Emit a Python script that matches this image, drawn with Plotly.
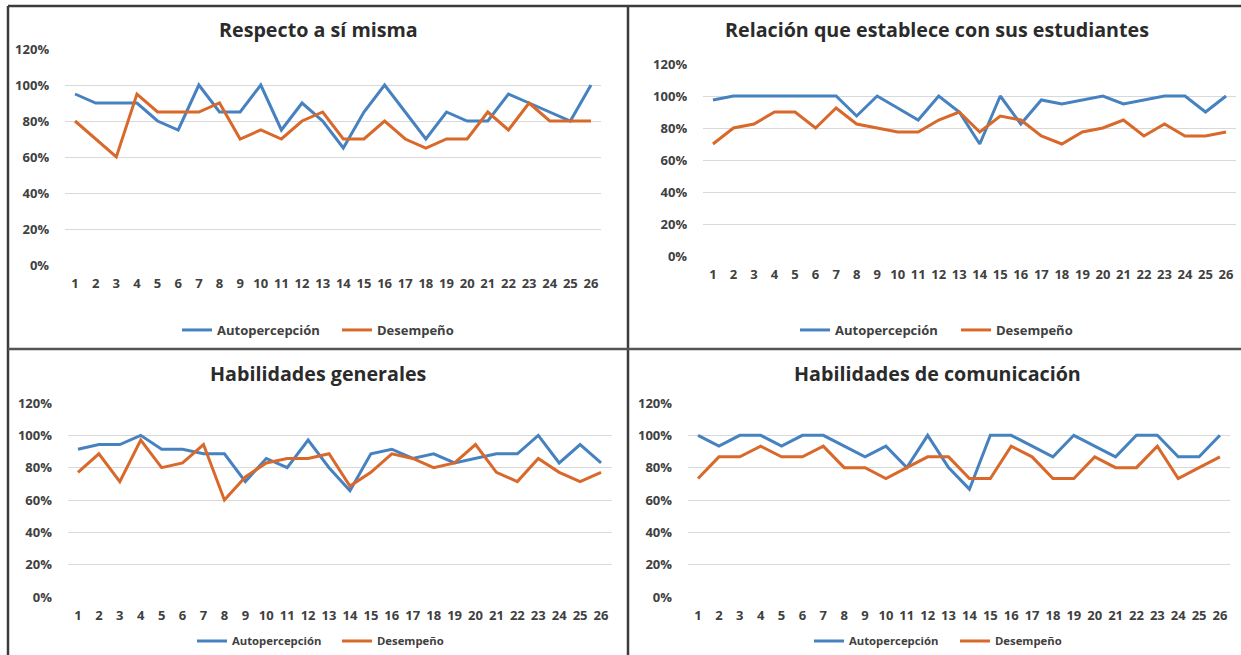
import plotly.graph_objects as go

# Evaluated items (1..26)
items = list(range(1, 27))

# Respecto a sí misma
auto_1 = [95, 90, 90, 90, 80, 75, 100, 85, 85, 100, 75, 90, 80, 65, 85, 100, 85, 70, 85, 80, 80, 95, 90, 85, 80, 100]
des_1 = [80, 70, 60, 95, 85, 85, 85, 90, 70, 75, 70, 80, 85, 70, 70, 80, 70, 65, 70, 70, 85, 75, 90, 80, 80, 80]

# Relación que establece con sus estudiantes
auto_2 = [97.5, 100, 100, 100, 100, 100, 100, 87.5, 100, 92.5, 85, 100, 90, 70, 100, 82.5, 97.5, 95, 97.5, 100, 95, 97.5, 100, 100, 90, 100]
des_2 = [70, 80, 82.5, 90, 90, 80, 92.5, 82.5, 80, 77.5, 77.5, 85, 90, 77.5, 87.5, 85, 75, 70, 77.5, 80, 85, 75, 82.5, 75, 75, 77.5]

# Habilidades generales
auto_3 = [91.4, 94.3, 94.3, 100, 91.4, 91.4, 88.6, 88.6, 71.4, 85.7, 80, 97.1, 80, 65.7, 88.6, 91.4, 85.7, 88.6, 82.9, 85.7, 88.6, 88.6, 100, 82.9, 94.3, 82.9]
des_3 = [77.1, 88.6, 71.4, 97.1, 80, 82.9, 94.3, 60, 74.3, 82.9, 85.7, 85.7, 88.6, 68.6, 77.1, 88.6, 85.7, 80, 82.9, 94.3, 77.1, 71.4, 85.7, 77.1, 71.4, 77.1]

# Habilidades de comunicación
auto_4 = [100, 93.3, 100, 100, 93.3, 100, 100, 93.3, 86.7, 93.3, 80, 100, 80, 66.7, 100, 100, 93.3, 86.7, 100, 93.3, 86.7, 100, 100, 86.7, 86.7, 100]
des_4 = [73.3, 86.7, 86.7, 93.3, 86.7, 86.7, 93.3, 80, 80, 73.3, 80, 86.7, 86.7, 73.3, 73.3, 93.3, 86.7, 73.3, 73.3, 86.7, 80, 80, 93.3, 73.3, 80, 86.7]

titles = ["Respecto a sí misma", "Relación que establece con sus estudiantes",
          "Habilidades generales", "Habilidades de comunicación"]
series_names = ["Autopercepción", "Desempeño"]
y_ticks = [0, 0.2, 0.4, 0.6, 0.8, 1.0, 1.2]

W, H = 1241, 655
BLUE = "#4682bf"
ORANGE = "#d8692b"
TEXT = "#404040"
FONT = "Open Sans"

# plot areas in pixels: (left, right, top, bottom); title centre; legend entry x positions
panels = [
    dict(box=(64.7, 601.3, 49, 265), title=(319, 30), leg_y=330, leg_x=(177, 337), leg_size=13, auto=auto_1, des=des_1),
    dict(box=(702.7, 1236.3, 64, 256), title=(937, 30), leg_y=330, leg_x=(795, 956), leg_size=13, auto=auto_2, des=des_2),
    dict(box=(67.5, 611.5, 403, 597), title=(319, 373), leg_y=641, leg_x=(192, 337), leg_size=11.3, auto=auto_3, des=des_3),
    dict(box=(687.6, 1230.4, 403, 597), title=(937, 373), leg_y=641, leg_x=(809, 955), leg_size=11.3, auto=auto_4, des=des_4),
]

fig = go.Figure()
layout = dict(width=W, height=H, margin=dict(l=0, r=0, t=0, b=0, autoexpand=False),
              paper_bgcolor="white", plot_bgcolor="white", showlegend=True,
              font=dict(family=FONT, color=TEXT))
annotations = []

leg_count = 0
for i, p in enumerate(panels):
    n = "" if i == 0 else str(i + 1)
    left, right, top, bottom = p["box"]
    for k, (name, vals, color) in enumerate([(series_names[0], p["auto"], BLUE),
                                             (series_names[1], p["des"], ORANGE)]):
        leg_count += 1
        legend_name = "legend" if leg_count == 1 else "legend" + str(leg_count)
        fig.add_trace(go.Scatter(
            x=items, y=[v / 100 for v in vals], mode="lines", name=name,
            line=dict(color=color, width=3), xaxis="x" + n, yaxis="y" + n,
            legend=legend_name, showlegend=True, hoverinfo="skip"))
        layout[legend_name] = dict(
            orientation="h", x=p["leg_x"][k] / W, xanchor="left",
            y=1 - p["leg_y"] / H, yanchor="middle",
            font=dict(family=FONT, size=p["leg_size"], color=TEXT, weight="bold"),
            bgcolor="rgba(0,0,0,0)", itemwidth=30)
    layout["xaxis" + n] = dict(
        domain=[left / W, right / W], anchor="y" + n, range=[0.5, 26.5],
        tickmode="array", tickvals=items, ticktext=[str(v) for v in items],
        showgrid=False, zeroline=False, showline=False,
        ticks="outside", ticklen=6, tickcolor="rgba(0,0,0,0)",
        tickfont=dict(family=FONT, size=13, color=TEXT, weight="bold"), fixedrange=True)
    layout["yaxis" + n] = dict(
        domain=[1 - bottom / H, 1 - top / H], anchor="x" + n, range=[0, 1.2],
        tickmode="array", tickvals=y_ticks, tickformat=".0%",
        showgrid=True, gridcolor="#d9d9d9", gridwidth=1.3, zeroline=False, showline=False,
        ticks="outside", ticklen=12, tickcolor="rgba(0,0,0,0)",
        tickfont=dict(family=FONT, size=13, color=TEXT, weight="bold"), fixedrange=True)
    annotations.append(dict(
        text=titles[i], x=p["title"][0] / W, y=1 - p["title"][1] / H,
        xref="paper", yref="paper", xanchor="center", yanchor="middle", showarrow=False,
        font=dict(family=FONT, size=19.7, color="#2b2b2b", weight="bold")))

# panel frame lines
frame = "#3c3c3c"
shapes = [
    dict(type="line", xref="paper", yref="paper", x0=8 / W, x1=1, y0=1 - 6 / H, y1=1 - 6 / H, line=dict(color=frame, width=2.5)),
    dict(type="line", xref="paper", yref="paper", x0=8 / W, x1=8 / W, y0=0, y1=1 - 6 / H, line=dict(color=frame, width=2.5)),
    dict(type="line", xref="paper", yref="paper", x0=628 / W, x1=628 / W, y0=0, y1=1 - 6 / H, line=dict(color=frame, width=2.5)),
    dict(type="line", xref="paper", yref="paper", x0=8 / W, x1=1, y0=1 - 349 / H, y1=1 - 349 / H, line=dict(color="#555555", width=2.5)),
]
layout["annotations"] = annotations
layout["shapes"] = shapes
fig.update_layout(**layout)
fig.write_html("out.html", post_script="document.body.style.margin='0';")
